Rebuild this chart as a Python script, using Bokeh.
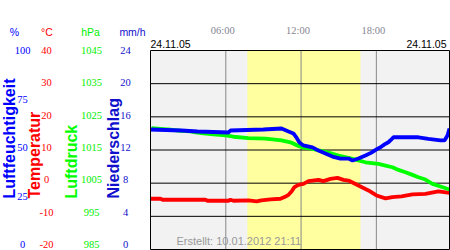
from bokeh.plotting import figure
from bokeh.models import Range1d, Label, LabelSet, ColumnDataSource
from bokeh.embed import file_html
from bokeh.resources import INLINE

# ---- data ----
hum_hours = [0.00, 2.47, 3.75, 6.22, 6.37, 9.00, 10.44, 11.00, 11.39, 11.63, 11.87, 12.19,
             12.91, 13.39, 13.94, 14.50, 15.14, 15.78, 16.10, 16.57, 17.13, 17.61, 18.01,
             18.33, 18.65, 18.96, 19.20, 19.36, 21.35, 22.15, 23.11, 23.43, 23.67, 23.83]
humidity = [60.3, 59.8, 59.3, 58.8, 59.8, 60.3, 60.8, 59.3, 58.3, 56.3, 53.8, 52.3,
            51.3, 49.7, 48.2, 46.7, 45.7, 45.7, 44.7, 45.7, 47.2, 48.7, 50.3,
            51.4, 52.8, 53.9, 55.3, 56.4, 56.4, 55.6, 54.8, 54.8, 57.3, 60.8]

pres_hours = [0.08, 1.04, 1.67, 2.39, 3.19, 3.59, 4.22, 5.02, 5.98, 6.61, 7.81, 9.16, 10.44,
              11.24, 11.79, 12.19, 12.83, 13.39, 14.18, 14.98, 15.94, 16.33, 17.13, 18.17,
              18.73, 19.28, 19.76, 20.32, 20.88, 21.35, 21.91, 22.47, 23.11, 23.83]
pressure = [1021.6, 1021.3, 1021.1, 1020.8, 1020.6, 1020.3, 1020.0, 1019.7, 1019.4, 1019.0,
            1018.6, 1018.4, 1017.9, 1017.2, 1016.2, 1015.7, 1015.4, 1014.9, 1014.2, 1013.3,
            1012.5, 1012.1, 1011.3, 1010.8, 1010.3, 1009.8, 1009.0, 1008.3, 1007.5, 1006.8,
            1006.1, 1004.8, 1004.0, 1003.1]

temp_hours = [0.00, 0.80, 0.96, 4.38, 4.54, 6.22, 6.37, 6.61, 7.81, 8.45, 8.84, 9.56, 10.36,
              10.68, 11.00, 11.24, 11.47, 11.79, 12.19, 12.59, 13.39, 13.78, 14.34, 14.90,
              15.38, 15.78, 16.57, 17.37, 18.01, 18.73, 19.28, 20.00, 20.88, 21.91, 22.95, 23.83]
temperature = [-4.7, -4.7, -5.0, -5.0, -5.3, -5.3, -5.0, -5.3, -5.2, -5.5, -5.2, -4.9, -4.7,
               -4.2, -3.5, -2.5, -1.2, -0.5, -0.2, 0.6, 1.0, 0.6, 1.3, 1.6,
               1.0, 0.8, -0.7, -2.2, -3.7, -4.6, -4.2, -4.0, -3.4, -3.2, -2.5, -2.9]

day_span = [0.0, 23.83]
daylight = [7.72, 16.73]
hour_ticks = [6, 12, 18]
hour_labels = ["06:00", "12:00", "18:00"]
pct_ticks = [0, 25, 50, 75, 100]
temp_ticks = [-20, -10, 0, 10, 20, 30, 40]
hpa_ticks = [985, 995, 1005, 1015, 1025, 1035, 1045]
mmh_ticks = [0, 4, 8, 12, 16, 20, 24]
date_text = "24.11.05"
footer_text = "Erstellt: 10.01.2012 21:11"

# ---- layout (pixels) ----
W, H = 450, 250
PL, PR, PT, PB = 150, 449, 50, 249      # plot area edges
LT, LB = 50, 244                         # tick label column extent

FONT = "Liberation Sans"
BLUE = "#0000ff"
RED = "#ff0000"
GREEN = "#00ee00"
DBLUE = "#1010cc"

def rng(lo, hi, px_lo, px_hi):
    u = (hi - lo) / (px_lo - px_hi)
    return Range1d(lo - (H - px_lo) * u, hi + px_hi * u)

pxh = (PR - PL) / (day_span[1] - day_span[0])
x_range = Range1d(day_span[0] - PL / pxh, day_span[0] + (W - PL) / pxh)

p = figure(width=W, height=H, output_backend="svg", toolbar_location=None,
           x_range=x_range, y_range=rng(temp_ticks[0], temp_ticks[-1], PB, PT),
           x_axis_location=None, y_axis_location=None,
           min_border=0)
p.extra_y_ranges = {
    "pct": rng(pct_ticks[0], pct_ticks[-1], PB, PT),
    "hpa": rng(hpa_ticks[0], hpa_ticks[-1], PB, PT),
    "mmh": rng(mmh_ticks[0], mmh_ticks[-1], PB, PT),
    "l_pct": rng(pct_ticks[0], pct_ticks[-1], LB, LT),
    "l_temp": rng(temp_ticks[0], temp_ticks[-1], LB, LT),
    "l_hpa": rng(hpa_ticks[0], hpa_ticks[-1], LB, LT),
    "l_mmh": rng(mmh_ticks[0], mmh_ticks[-1], LB, LT),
}
p.background_fill_color = "white"
p.border_fill_color = "white"
p.outline_line_color = None
p.xgrid.visible = False
p.ygrid.visible = False

tlo, thi = temp_ticks[0], temp_ticks[-1]
# plot area background and daylight band
p.quad(left=[day_span[0]], right=[day_span[1]], bottom=[tlo], top=[thi],
       fill_color="#f2f2f2", line_color=None)
p.quad(left=[daylight[0]], right=[daylight[1]], bottom=[tlo], top=[thi],
       fill_color="#ffffa0", line_color=None)
# vertical hour lines
p.segment(x0=hour_ticks, x1=hour_ticks, y0=[tlo] * 3, y1=[thi] * 3,
          line_color="#888888", line_width=1)
# horizontal grid lines
inner = temp_ticks[1:-1]
p.segment(x0=[day_span[0]] * len(inner), x1=[day_span[1]] * len(inner), y0=inner, y1=inner,
          line_color="black", line_width=1)

# series
p.line(temp_hours, temperature, line_color=RED, line_width=3.8)
p.line(pres_hours, pressure, y_range_name="hpa", line_color="#00ff00", line_width=3.8)
p.line(hum_hours, humidity, y_range_name="pct", line_color=BLUE, line_width=3.8)

# frame border
p.quad(left=[day_span[0]], right=[day_span[1]], bottom=[tlo], top=[thi],
       fill_color=None, line_color="black", line_width=1)

def tick_column(ticks, rname, xs, color):
    src = ColumnDataSource(dict(y=ticks, t=[str(v) for v in ticks]))
    p.add_layout(LabelSet(x=xs, y="y", text="t", source=src, x_units="screen",
                          y_range_name=rname, text_align="center", text_baseline="middle",
                          text_font=FONT, text_font_size="10.5px", text_color=color))

tick_column(pct_ticks, "l_pct", 22, BLUE)
tick_column(temp_ticks, "l_temp", 46, RED)
tick_column(hpa_ticks, "l_hpa", 91, GREEN)
tick_column(mmh_ticks, "l_mmh", 125, DBLUE)

for txt, xs, col in [("%", 14, BLUE), ("°C", 46.5, RED), ("hPa", 90, GREEN), ("mm/h", 132, DBLUE)]:
    p.add_layout(Label(x=xs, y=H - 31, x_units="screen", y_units="screen", text=txt,
                       text_align="center", text_baseline="middle", text_font=FONT,
                       text_font_size="10.5px", text_color=col))

for txt, xs, col in [("Luftfeuchtigkeit", 9, BLUE), ("Temperatur", 34, RED),
                     ("Luftdruck", 71, "#00ff00"), ("Niederschlag", 113, DBLUE)]:
    p.add_layout(Label(x=xs, y=H - 198, x_units="screen", y_units="screen", text=txt,
                       angle=90, angle_units="deg", text_align="left",
                       text_baseline="alphabetic", text_font=FONT, text_font_size="16px",
                       text_font_style="bold", text_color=col))

hsrc = ColumnDataSource(dict(x=hour_ticks, t=hour_labels))
p.add_layout(LabelSet(x="x", y=H - 30, y_units="screen", text="t", source=hsrc,
                      x_offset=-3, text_align="center", text_baseline="middle",
                      text_font=FONT, text_font_size="10.5px", text_color="#858590"))

p.add_layout(Label(x=PL, y=H - 43, x_units="screen", y_units="screen", text=date_text,
                   text_align="left", text_baseline="middle", text_font=FONT,
                   text_font_size="10.5px", text_color="black"))
p.add_layout(Label(x=446, y=H - 43, x_units="screen", y_units="screen", text=date_text,
                   text_align="right", text_baseline="middle", text_font=FONT,
                   text_font_size="10.5px", text_color="black"))
p.add_layout(Label(x=176, y=H - 240, x_units="screen", y_units="screen", text=footer_text,
                   text_align="left", text_baseline="middle", text_font=FONT,
                   text_font_size="11px", text_color="#999999"))

open("out.html", "w").write(file_html(p, INLINE))
